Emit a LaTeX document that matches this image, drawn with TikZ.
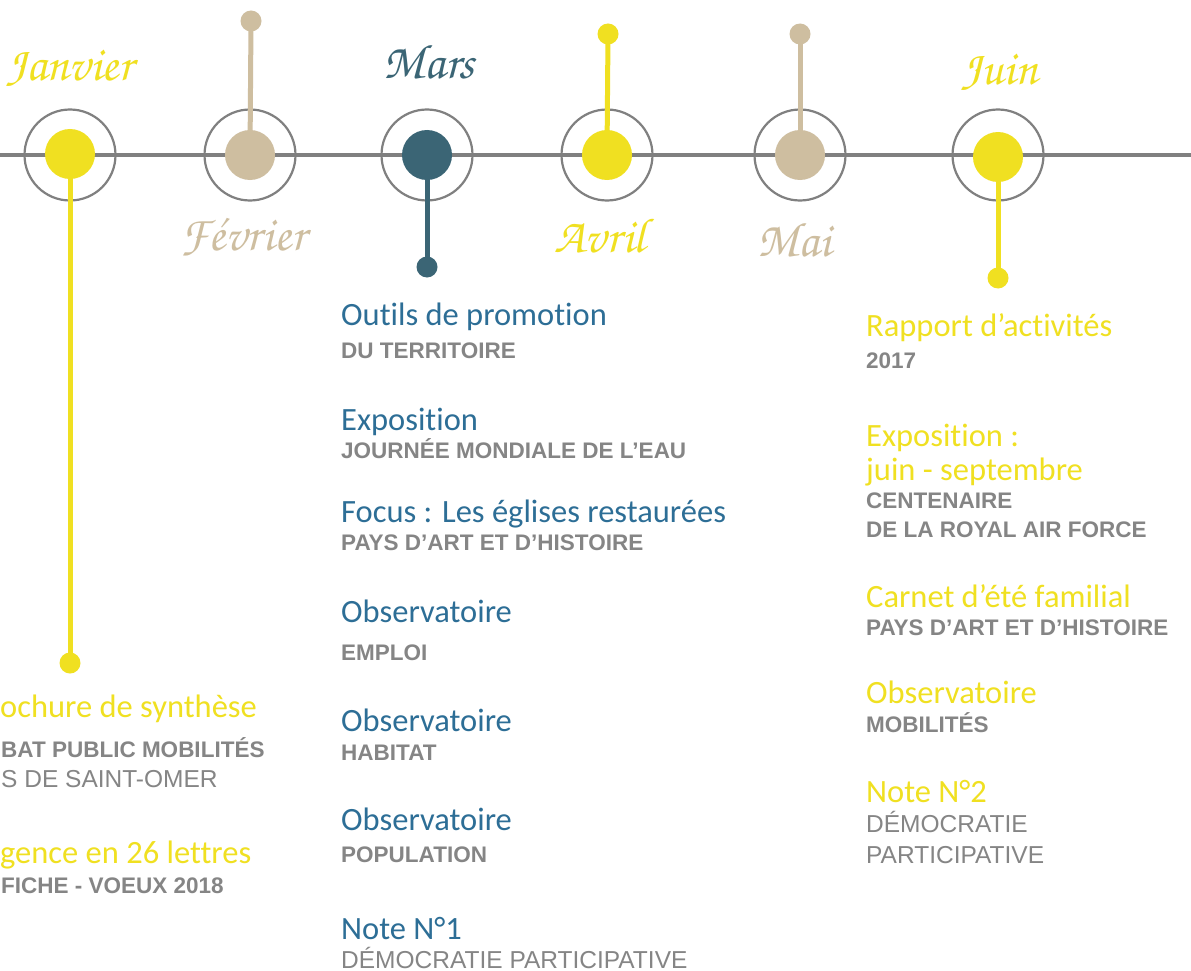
\documentclass[tikz,border=0pt]{standalone}
\usepackage{fontspec}
\setmainfont{Liberation Sans}
\newfontfamily\monthfont{TeX Gyre Chorus}
\newfontfamily\titlefont{Carlito}[Ligatures=NoCommon]
\newfontfamily\subfont{Liberation Sans}
\definecolor{tlyellow}{HTML}{F0E021}
\definecolor{tlbeige}{HTML}{CEBEA0}
\definecolor{tlteal}{HTML}{3B6575}
\definecolor{tlblue}{HTML}{2D6E96}
\definecolor{tlgray}{HTML}{808080}
\definecolor{tltext}{HTML}{858585}
\begin{document}
\begin{tikzpicture}[x=1pt,y=-1pt,
 ring/.style={circle,draw=tlgray,line width=2.2pt,minimum size=91pt,inner sep=0pt},
 disk/.style={circle,fill=#1,minimum size=50pt,inner sep=0pt},
 dot/.style={circle,fill=#1,minimum size=21pt,inner sep=0pt},
 stem/.style={draw=#1,line width=5pt},
 month/.style={font=\monthfont\fontsize{49}{49}\selectfont,text=#1,inner sep=0pt},
 ttl/.style={anchor=base west,inner sep=0pt,font=\titlefont\fontsize{32.5}{32.5}\selectfont,text=#1},
 sub/.style={anchor=base west,inner sep=0pt,font=\subfont\bfseries\fontsize{22.5}{22.5}\selectfont,text=tltext},
 subl/.style={anchor=base west,inner sep=0pt,font=\subfont\fontsize{24.5}{24.5}\selectfont,text=tltext}
]
\useasboundingbox (0,0) rectangle (1191,971);
\fill[white] (0,0) rectangle (1191,971);
% timeline
\coordinate (tlL) at (0,155);
\coordinate (tlR) at (1191,155);
\draw[tlgray,line width=4pt] (tlL) -- (tlR);
% rings
\node[ring] (rjan) at (70,155) {};
\node[ring] (rfeb) at (250,155) {};
\node[ring] (rmar) at (427,155) {};
\node[ring] (rapr) at (607,155) {};
\node[ring] (rmay) at (800,155) {};
\node[ring] (rjun) at (998,155) {};
% disks
\node[disk=tlyellow] (djan) at (70,154) {};
\node[disk=tlbeige] (dfeb) at (250,155) {};
\node[disk=tlteal] (dmar) at (427,155) {};
\node[disk=tlyellow] (dapr) at (607,155) {};
\node[disk=tlbeige] (dmay) at (800,155) {};
\node[disk=tlyellow] (djun) at (998,157) {};
% end dots
\node[dot=tlyellow] (pjan) at (70,663) {};
\node[dot=tlbeige] (pfeb) at (251,21) {};
\node[dot=tlteal] (pmar) at (427,267) {};
\node[dot=tlyellow] (papr) at (608,34) {};
\node[dot=tlbeige] (pmay) at (800,34) {};
\node[dot=tlyellow] (pjun) at (998,278) {};
% stems
\draw[stem=tlyellow] (djan.center) -- (pjan.center);
\draw[stem=tlbeige] (dfeb.center) -- (pfeb.center);
\draw[stem=tlteal] (dmar.center) -- (pmar.center);
\draw[stem=tlyellow] (dapr.center) -- (papr.center);
\draw[stem=tlbeige] (dmay.center) -- (pmay.center);
\draw[stem=tlyellow] (djun.center) -- (pjun.center);
% month labels
\node[month=tlyellow] (mjan) at (70,68) {Janvier};
\node[month=tlbeige] (mfeb) at (243,237) {Février};
\node[month=tlteal] (mmar) at (429,62) {Mars};
\node[month=tlyellow] (mapr) at (600,236) {Avril};
\node[month=tlbeige] (mmay) at (794,240) {Mai};
\node[month=tlyellow] (mjun) at (1000,72) {Juin};
% Janvier column
\node[ttl=tlyellow] (j1t) at (0,717) {ochure de synthèse};
\node[sub] (j1s) at (1,757) {BAT PUBLIC MOBILITÉS};
\node[subl] (j1s2) at (1,787) {S DE SAINT-OMER};
\node[ttl=tlyellow] (j2t) at (0,863) {gence en 26 lettres};
\node[sub] (j2s) at (1,893) {FICHE - VOEUX 2018};
% Mars column
\node[ttl=tlblue] (m1t) at (341,325) {Outils de promotion};
\node[sub] (m1s) at (341,358) {DU TERRITOIRE};
\node[ttl=tlblue] (m2t) at (341,430) {Exposition};
\node[sub] (m2s) at (341,458) {JOURNÉE MONDIALE DE L’EAU};
\node[ttl=tlblue] (m3t) at (341,522) {Focus : Les églises restaurées};
\node[sub] (m3s) at (341,550) {PAYS D’ART ET D’HISTOIRE};
\node[ttl=tlblue] (m4t) at (341,622) {Observatoire};
\node[sub] (m4s) at (341,660) {EMPLOI};
\node[ttl=tlblue] (m5t) at (341,731) {Observatoire};
\node[sub] (m5s) at (341,760) {HABITAT};
\node[ttl=tlblue] (m6t) at (341,830) {Observatoire};
\node[sub] (m6s) at (341,862) {POPULATION};
\node[ttl=tlblue] (m7t) at (341,939) {Note N°1};
\node[subl] (m7s) at (341,968) {DÉMOCRATIE PARTICIPATIVE};
% Juin column
\node[ttl=tlyellow] (u1t) at (866,336) {Rapport d’activités};
\node[sub] (u1s) at (866,368) {2017};
\node[ttl=tlyellow] (u2t) at (866,446) {Exposition :};
\node[ttl=tlyellow] (u2t2) at (866,480) {juin - septembre};
\node[sub] (u2s) at (866,508) {CENTENAIRE};
\node[sub] (u2s2) at (866,537) {DE LA ROYAL AIR FORCE};
\node[ttl=tlyellow] (u3t) at (866,607) {Carnet d’été familial};
\node[sub] (u3s) at (866,635) {PAYS D’ART ET D’HISTOIRE};
\node[ttl=tlyellow] (u4t) at (866,703) {Observatoire};
\node[sub] (u4s) at (866,732) {MOBILITÉS};
\node[ttl=tlyellow] (u5t) at (866,802) {Note N°2};
\node[subl] (u5s) at (866,832) {DÉMOCRATIE};
\node[subl] (u5s2) at (866,863) {PARTICIPATIVE};
\end{tikzpicture}
\end{document}
